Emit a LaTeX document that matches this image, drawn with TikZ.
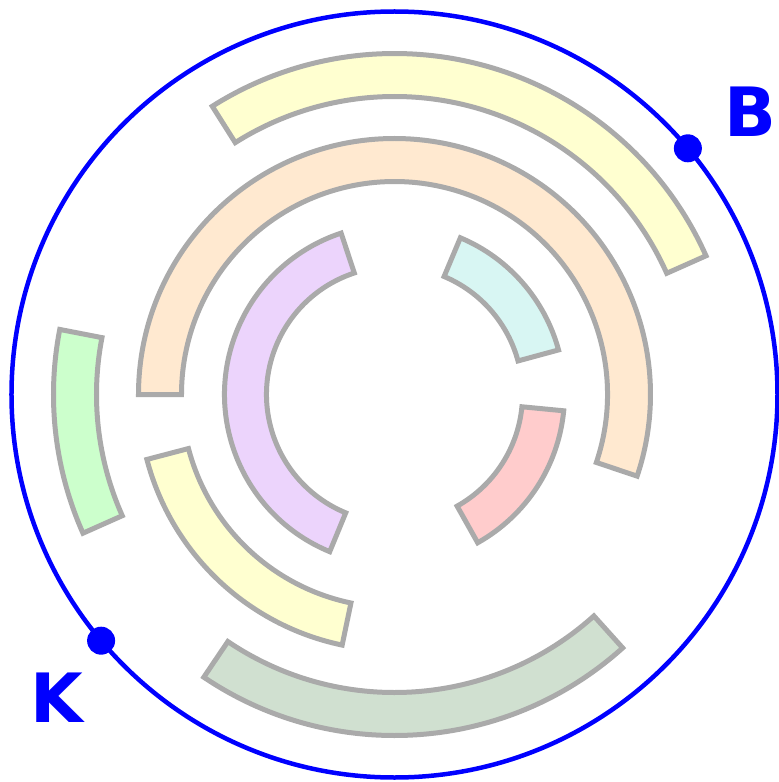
\documentclass[tikz,border=0pt]{standalone}
\usepackage{fontspec}
\setmainfont{DejaVu Sans}
\definecolor{segyellow}{RGB}{255,255,208}
\definecolor{segorange}{RGB}{255,233,208}
\definecolor{segpurple}{RGB}{236,212,252}
\definecolor{seggreen}{RGB}{204,255,204}
\definecolor{seggraygreen}{RGB}{208,224,208}
\definecolor{segred}{RGB}{255,204,204}
\definecolor{segcyan}{RGB}{216,246,243}
\definecolor{seggray}{RGB}{170,170,170}
\tikzset{
  segbox/.style={draw=seggray, line width=5pt, line join=miter},
  bluedot/.style={circle, fill=blue, inner sep=0pt, minimum size=28pt},
  bluelabel/.style={text=blue, font=\fontsize{68}{68}\selectfont\bfseries, inner sep=0pt}
}
\newcommand{\annseg}[5]{%
  \path[segbox, fill=#5] (#1:#3) arc[start angle=#1, end angle=#2, radius=#3]
    -- (#2:#4) arc[start angle=#2, end angle=#1, radius=#4] -- cycle;}
\begin{document}
\begin{tikzpicture}[x=1pt, y=1pt]
\useasboundingbox (-394.5,-387.5) rectangle (384.5,394.5);
% outer track
\annseg{24}{122.3}{298}{341}{segyellow}
\annseg{169}{204}{298}{341}{seggreen}
\annseg{236}{312}{298}{341}{seggraygreen}
% middle track
\annseg{-18.6}{180}{213}{256}{segorange}
\annseg{194.7}{258.2}{213}{256}{segyellow}
% inner track
\annseg{108.3}{247.6}{128}{170}{segpurple}
\annseg{15.2}{67.2}{128}{170}{segcyan}
\annseg{-60.7}{-5.5}{128}{170}{segred}
% blue circle
\draw[blue, line width=4.5pt] (0,0) circle[radius=383];
\node[bluedot] (dB) at (40:383) {};
\node[bluedot] (dK) at (220:383) {};
\node[bluelabel] (lB) at (355.5,282.5) {B};
\node[bluelabel] (lK) at (-337.5,-303.5) {K};
\end{tikzpicture}
\end{document}
